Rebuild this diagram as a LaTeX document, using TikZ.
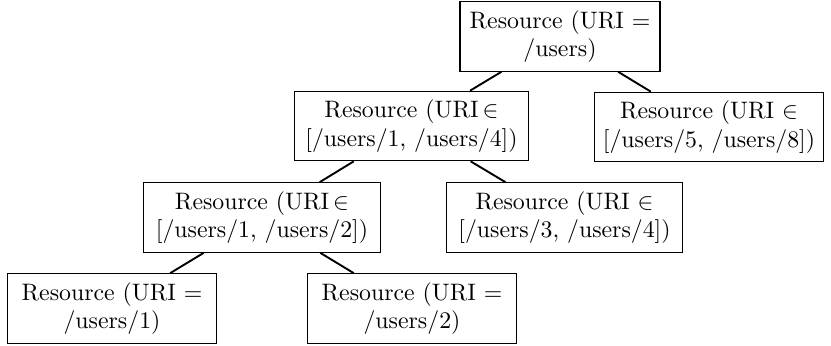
\documentclass[tikz,border=0pt]{standalone}
\begin{document}
\begin{tikzpicture}[x=0.4202pt, y=-0.4202pt,
  res/.style={draw, align=center, inner sep=3.6pt, line width=0.5pt},
  link/.style={line width=0.8pt}]
\useasboundingbox (0,0) rectangle (831,346);
% tree of resources
\node[res, minimum width=84pt] (root) at (560,36.5) {Resource (URI $=$\\ /users)};
\node[res, minimum width=98pt] (a)    at (411.5,126) {Resource (URI\,$\in$\\ {[}/users/1, /users/4{]})};
\node[res, minimum width=93pt] (b)    at (709,127) {Resource (URI $\in$\\ {[}/users/5, /users/8{]})};
\node[res, minimum width=99.5pt] (aa)   at (262,217.5) {Resource (URI\,$\in$\\ {[}/users/1, /users/2{]})};
\node[res, minimum width=99.5pt] (ab)   at (564.5,217.5) {Resource (URI $\in$\\ {[}/users/3, /users/4{]})};
\node[res, minimum width=88pt] (aaa)  at (112,308.5) {Resource (URI $=$\\ /users/1)};
\node[res, minimum width=88pt] (aab)  at (412,308.5) {Resource (URI $=$\\ /users/2)};
% parent-child links
\draw[link] (root) -- (a);
\draw[link] (root) -- (b);
\draw[link] (a) -- (aa);
\draw[link] (a) -- (ab);
\draw[link] (aa) -- (aaa);
\draw[link] (aa) -- (aab);
\end{tikzpicture}
\end{document}
